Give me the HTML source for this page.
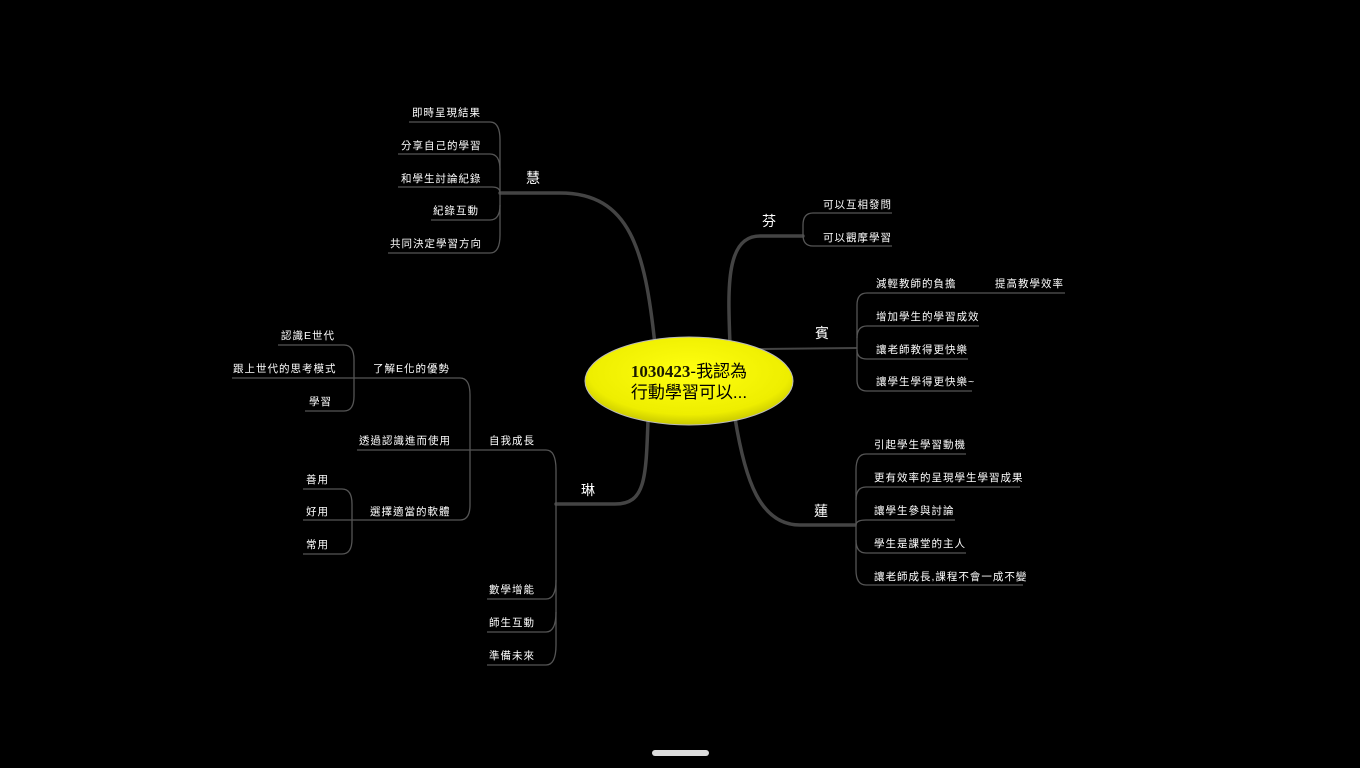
<!DOCTYPE html>
<html><head><meta charset="utf-8"><style>
html,body{margin:0;padding:0;background:#000;width:1360px;height:768px;overflow:hidden}
svg text{font-family:"Liberation Sans","Noto Sans CJK TC",sans-serif;fill:#fff}
.s{font-size:10.5px;letter-spacing:1px}
.m{font-size:14px}
</style></head><body>
<svg width="1360" height="768" viewBox="0 0 1360 768" xmlns="http://www.w3.org/2000/svg">
<defs>
<radialGradient id="g" cx="50%" cy="40%" r="60%">
<stop offset="0" stop-color="#ffff10"/><stop offset="0.8" stop-color="#eeee00"/><stop offset="1" stop-color="#c8c800"/>
</radialGradient>
</defs>
<g fill="none" stroke="#444" stroke-linecap="round">
<path d="M655,345 C645,250 630,193 560,193 L500,193" stroke-width="3.5"/>
<path d="M730,345 C728,290 725,236 760,236 L803,236" stroke-width="3.5"/>
<path d="M760,349 L856,348" stroke-width="2"/>
<path d="M735,418 C745,480 760,525 800,525 L855,525" stroke-width="3.5"/>
<path d="M648,420 C646,480 645,504 615,504 L556,504" stroke-width="3.5"/>
</g>
<g fill="none" stroke="#555" stroke-width="1.3">
<path d="M409,122 L490,122 Q500,122 500,140 L500,235 Q500,253 490,253 L388,253"/>
<path d="M398,154 L490,154 Q500,154 500,170"/>
<path d="M398,187 L492,187 Q500,187 500,193"/>
<path d="M431,220 L490,220 Q500,220 500,205"/>
<path d="M892,213 L813,213 Q803,213 803,225 L803,235 Q803,246 813,246 L892,246"/>
<path d="M1065,293 L867,293 Q857,293 857,305 L857,380 Q857,391 867,391 L972,391"/>
<path d="M979,326 L867,326 Q857,326 857,338"/>
<path d="M968,359 L867,359 Q857,359 857,350"/>
<path d="M966,454 L866,454 Q856,454 856,470 L856,570 Q856,585 866,585 L1023,585"/>
<path d="M1020,487 L866,487 Q856,487 856,500"/>
<path d="M955,520 L866,520 Q856,520 856,525"/>
<path d="M966,553 L866,553 Q856,553 856,540"/>
<path d="M470,450 L546,450 Q556,450 556,470 L556,645 Q556,665 546,665 L487,665"/>
<path d="M487,599 L546,599 Q556,599 556,580"/>
<path d="M487,632 L546,632 Q556,632 556,612"/>
<path d="M360,378 L460,378 Q470,378 470,395 L470,505 Q470,520 460,520 L303,520"/>
<path d="M357,450 L470,450"/>
<path d="M278,345 L344,345 Q354,345 354,360 L354,396 Q354,411 344,411 L305,411"/>
<path d="M232,378 L360,378"/>
<path d="M303,489 L342,489 Q352,489 352,504 L352,539 Q352,554 342,554 L303,554"/>
</g>
<ellipse cx="689" cy="381" rx="104" ry="44" fill="url(#g)" stroke="#bbb" stroke-width="1"/>
<text x="689" y="377" text-anchor="middle" style="font-size:17px;fill:#000"><tspan style="font-family:'Liberation Serif',serif;font-weight:bold;fill:#1a1a00">1030423</tspan>-我認為</text>
<text x="689" y="398" text-anchor="middle" style="font-size:17px;fill:#000">行動學習可以...</text>

<text class="m" x="526" y="183">慧</text>
<text class="m" x="762" y="226">芬</text>
<text class="m" x="815" y="338">賓</text>
<text class="m" x="814" y="516">蓮</text>
<text class="m" x="581" y="495">琳</text>

<g class="s">
<text x="412" y="116">即時呈現結果</text>
<text x="401" y="149">分享自己的學習</text>
<text x="401" y="182">和學生討論紀錄</text>
<text x="433" y="214">紀錄互動</text>
<text x="390" y="247">共同決定學習方向</text>

<text x="823" y="208">可以互相發問</text>
<text x="823" y="241">可以觀摩學習</text>

<text x="876" y="287">減輕教師的負擔</text>
<text x="995" y="287">提高教學效率</text>
<text x="876" y="320">增加學生的學習成效</text>
<text x="876" y="353">讓老師教得更快樂</text>
<text x="876" y="385">讓學生學得更快樂~</text>

<text x="874" y="448">引起學生學習動機</text>
<text x="874" y="481">更有效率的呈現學生學習成果</text>
<text x="874" y="514">讓學生參與討論</text>
<text x="874" y="547">學生是課堂的主人</text>
<text x="874" y="580">讓老師成長,課程不會一成不變</text>

<text x="489" y="444">自我成長</text>
<text x="489" y="593">數學增能</text>
<text x="489" y="626">師生互動</text>
<text x="489" y="659">準備未來</text>

<text x="373" y="372">了解E化的優勢</text>
<text x="359" y="444">透過認識進而使用</text>
<text x="370" y="515">選擇適當的軟體</text>

<text x="281" y="339">認識E世代</text>
<text x="233" y="372">跟上世代的思考模式</text>
<text x="309" y="405">學習</text>

<text x="306" y="483">善用</text>
<text x="306" y="515">好用</text>
<text x="306" y="548">常用</text>
</g>
<rect x="652" y="750" width="57" height="6" rx="3" fill="#ddd"/>
</svg>
</body></html>
